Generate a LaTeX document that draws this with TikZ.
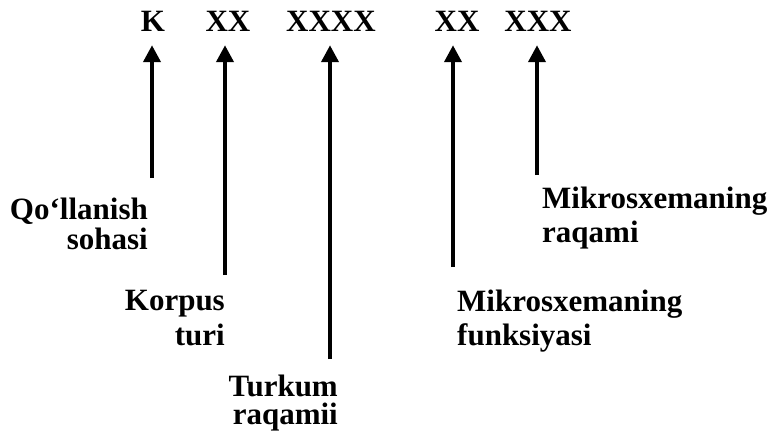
\documentclass[tikz,border=0pt]{standalone}
\usepackage{fontspec}
\setmainfont{Liberation Serif}
\usetikzlibrary{arrows.meta}
\begin{document}
\begin{tikzpicture}[x=1pt,y=-1pt,
  txt/.style={font=\fontsize{31}{34}\selectfont\bfseries, inner sep=0pt},
  code/.style={txt, anchor=base},
  arr/.style={line width=4pt, -{Triangle[width=17pt,length=17pt]}, shorten >=13pt}]
\useasboundingbox[fill=white] (0,0) rectangle (775,436);
% code letters
\node[code] (c1) at (153,32) {K};
\node[code] (c2) at (228,32) {XX};
\node[code] (c3) at (331,32) {XXXX};
\node[code] (c4) at (457,32) {XX};
\node[code] (c5) at (538,32) {XXX};
% labels
\node[txt, align=right, anchor=north east] (l1) at (148,198) {Qo‘llanish\\[-4pt]sohasi};
\node[txt, align=right, anchor=north east] (l2) at (225,290) {Korpus\\[1pt]turi};
\node[txt, align=right, anchor=north east] (l3) at (338,375) {Turkum\\[-6pt]raqamii};
\node[txt, align=left, anchor=north west] (l4) at (457,290) {Mikrosxemaning\\funksiyasi};
\node[txt, align=left, anchor=north west] (l5) at (542,187) {Mikrosxemaning\\raqami};
% arrow feet
\coordinate (b1) at (152,178);
\coordinate (b2) at (225,275);
\coordinate (b3) at (330,359);
\coordinate (b4) at (453,267);
\coordinate (b5) at (537,175);
\draw[arr] (b1) -- (b1 |- c1.south);
\draw[arr] (b2) -- (b2 |- c2.south);
\draw[arr] (b3) -- (b3 |- c3.south);
\draw[arr] (b4) -- (b4 |- c4.south);
\draw[arr] (b5) -- (b5 |- c5.south);
\end{tikzpicture}
\end{document}
